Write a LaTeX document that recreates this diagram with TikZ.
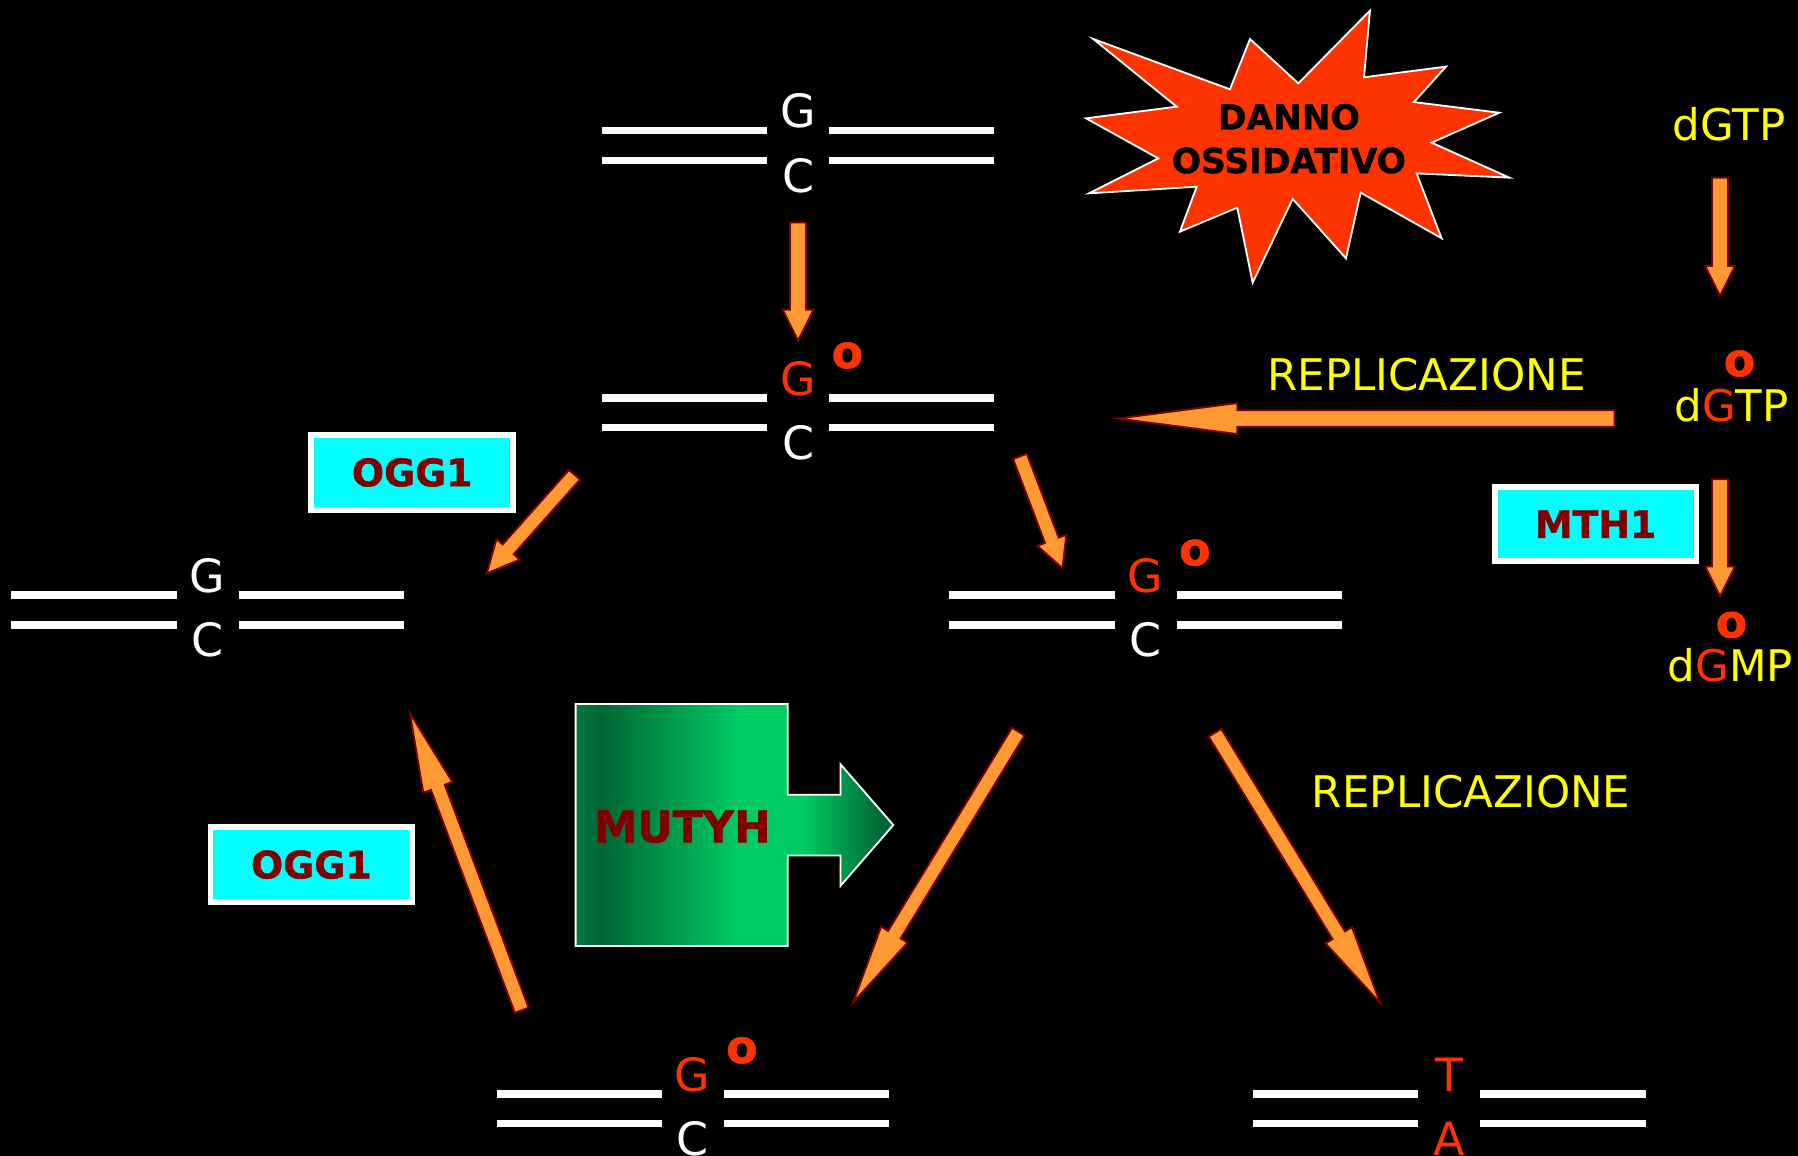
\documentclass[tikz,border=0pt]{standalone}
\usepackage{fontspec}
\setmainfont[BoldFeatures={FakeBold=1.2}]{DejaVu Sans}
\usetikzlibrary{calc}

\definecolor{ored}{HTML}{FF3300}
\definecolor{afill}{HTML}{FF9933}
\definecolor{aline}{HTML}{800000}
\definecolor{dred}{HTML}{800000}
\definecolor{ycol}{HTML}{FFFF00}
\definecolor{cyanbox}{HTML}{00FFFF}
\definecolor{gdark}{HTML}{006633}
\definecolor{gbright}{HTML}{00CC66}
\definecolor{gedge}{HTML}{007A40}

\tikzset{
  strand/.style={white, line width=3.2pt},
  base/.style={inner sep=0pt, font=\fontsize{20}{24}\selectfont},
  oxo/.style={inner sep=0pt, text=ored, font=\bfseries\fontsize{20}{24}\selectfont},
  label/.style={inner sep=0pt, text=ycol, font=\fontsize{19}{23}\selectfont},
  enzyme/.style={draw=white, line width=2.5pt, fill=cyanbox, text=dred,
    minimum width=88pt, minimum height=32.5pt, inner sep=0pt,
    font=\bfseries\fontsize{16.5}{20}\selectfont},
  barrow/.style={fill=afill, draw=aline, line width=0.8pt, line join=miter},
  burst/.style={fill=ored, draw=white, line width=0.8pt, line join=miter},
}

% block arrow: tail, tip, shaft half width, head half width, head length
\newcommand\ctarrow[5]{%
  \coordinate (hb) at ($(#2)!#5!(#1)$);
  \draw[barrow] ($(#1)!#3!90:(#2)$) -- ($(hb)!#3!90:(#2)$) -- ($(hb)!#4!90:(#2)$)
    -- (#2) -- ($(hb)!#4!-90:(#2)$) -- ($(hb)!#3!-90:(#2)$) -- ($(#1)!#3!-90:(#2)$) -- cycle;
}

% double strand with a base pair in the gap
\newcommand\duplex[7]{%
  \draw[strand] (#2-171,#3) -- (#2-27,#3) (#2+27,#3) -- (#2+171,#3)
                (#2-171,#3+26) -- (#2-27,#3+26) (#2+27,#3+26) -- (#2+171,#3+26);
  \node[base, text=#6] (#1u) at (#2,#3-17) {#4};
  \node[base, text=#7] (#1l) at (#2,#3+39) {#5};
}

\begin{document}
\begin{tikzpicture}[x=0.5pt, y=-0.5pt]
\fill[black] (0,0) rectangle (1568,1008);
\useasboundingbox (0,0) rectangle (1568,1008);

% DNA duplexes
\duplex{top}{696}{114}{G}{C}{white}{white}
\duplex{ox}{696}{347}{G}{C}{ored}{white}
\node[oxo] (oxo) at (739,310) {o};
\duplex{rep}{181}{519}{G}{C}{white}{white}
\duplex{mis}{999}{519}{G}{C}{ored}{white}
\node[oxo] (miso) at (1042,482) {o};
\duplex{bl}{604}{954}{G}{C}{ored}{white}
\node[oxo] (blo) at (647,916) {o};
\duplex{br}{1264}{954}{T}{A}{ored}{ored}

% oxidative damage burst
\draw[burst] (953.4,34) -- (1072.6,77.9) -- (1090.1,34) -- (1132.2,72.7)
  -- (1194.7,9.3) -- (1189.5,67.4) -- (1261,58.1) -- (1233.1,89)
  -- (1307.5,98.3) -- (1248.5,124.4) -- (1316.2,154.9) -- (1235.4,151.2)
  -- (1257.2,207.8) -- (1186.6,168) -- (1173.8,225.3) -- (1127.3,173.5)
  -- (1092.4,246.5) -- (1079,181.1) -- (1029,202) -- (1043.6,162.8)
  -- (949.7,168.6) -- (1010.1,138.1) -- (947.1,103.2) -- (1026.1,93) -- cycle;
\node[inner sep=0pt, align=center, text=black,
  font=\bfseries\fontsize{15}{19}\selectfont] (danno) at (1124,121) {DANNO\\OSSIDATIVO};

% nucleotide pool
\node[label] (dgtp) at (1508,108) {dGTP};
\node[oxo] (dgtpo) at (1517,317) {o};
\node[label] (odgtp) at (1510,353) {d\textcolor{ored}{G}TP};
\node[oxo] (dgmpo) at (1510,545) {o};
\node[label] (odgmp) at (1509,580) {d\textcolor{ored}{G}MP};

\node[label] (rep1) at (1244,327) {REPLICAZIONE};
\node[label] (rep2) at (1283,690) {REPLICAZIONE};

% enzymes
\node[enzyme] (ogg1a) at (359.5,412) {OGG1};
\node[enzyme] (ogg1b) at (271.5,754) {OGG1};
\node[enzyme] (mth1) at (1391.5,457) {MTH1};

% MUTYH block arrow
\begin{scope}
\clip (502,614) -- (687,614) -- (687,693) -- (733,693) -- (733,666.5) -- (779,719.5)
  -- (733,772.5) -- (733,746) -- (687,746) -- (687,825) -- (502,825) -- cycle;
\shade[left color=gedge, right color=gdark] (500,610) rectangle (524.5,830);
\shade[left color=gdark, right color=gbright] (524,610) rectangle (645.5,830);
\fill[gbright] (645,610) rectangle (700.5,830);
\shade[left color=gbright, right color=gdark] (700,610) rectangle (768.5,830);
\fill[gdark] (768,610) rectangle (782,830);
\end{scope}
\draw[white, line width=0.8pt, line join=miter] (502,614) -- (687,614) -- (687,693) -- (733,693)
  -- (733,666.5) -- (779,719.5) -- (733,772.5) -- (733,746) -- (687,746) -- (687,825)
  -- (502,825) -- cycle;
\node[inner sep=0pt, text=dred, font=\bfseries\fontsize{19}{23}\selectfont] (mutyh) at (595,721) {MUTYH};

% arrow end points
\coordinate (a1s) at (696,194);    \coordinate (a1e) at (696,297);
\coordinate (a2s) at (501,414);    \coordinate (a2e) at (424.5,500);
\coordinate (a3s) at (889.5,398);  \coordinate (a3e) at (926.5,495.5);
\coordinate (a4s) at (1408,365);   \coordinate (a4e) at (975,365);
\coordinate (a5s) at (1500,155);   \coordinate (a5e) at (1500,258);
\coordinate (a6s) at (1500,418);   \coordinate (a6e) at (1500,520);
\coordinate (a7s) at (888,638);    \coordinate (a7e) at (744,874);
\coordinate (a8s) at (1059.5,639); \coordinate (a8e) at (1203.5,874.5);
\coordinate (a9s) at (455,881);    \coordinate (a9e) at (357.5,622);

\ctarrow{a1s}{a1e}{3.5pt}{6.75pt}{13.5pt}
\ctarrow{a2s}{a2e}{3.2pt}{6.75pt}{14pt}
\ctarrow{a3s}{a3e}{3.2pt}{6.75pt}{13pt}
\ctarrow{a4s}{a4e}{3.6pt}{6.75pt}{52pt}
\ctarrow{a5s}{a5e}{3.5pt}{6.5pt}{13pt}
\ctarrow{a6s}{a6e}{3.5pt}{6.5pt}{13pt}
\ctarrow{a7s}{a7e}{3.2pt}{6.75pt}{34.5pt}
\ctarrow{a8s}{a8e}{3.2pt}{6.75pt}{34.5pt}
\ctarrow{a9s}{a9e}{3.2pt}{6.75pt}{34.5pt}
\end{tikzpicture}
\end{document}
